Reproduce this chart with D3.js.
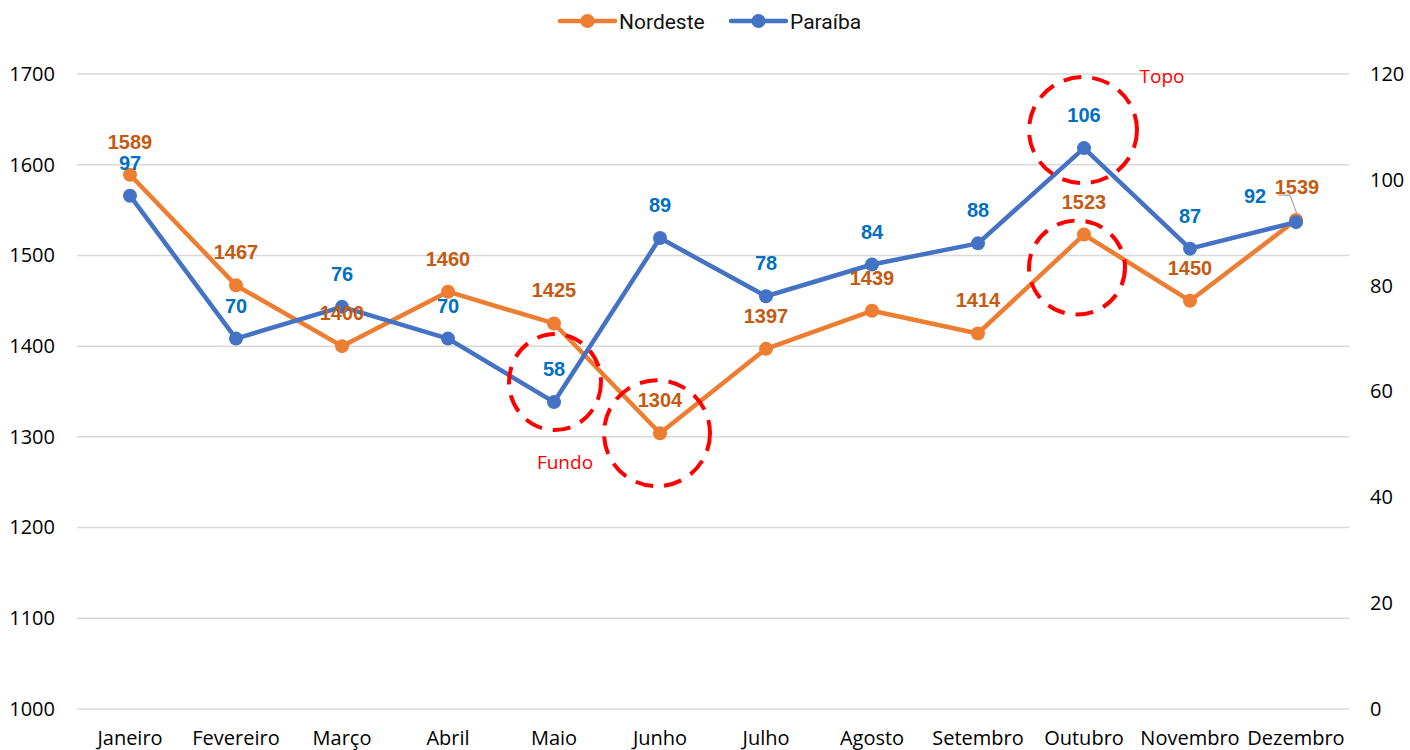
<!DOCTYPE html>
<html><head><meta charset="utf-8">
<script src="https://cdn.jsdelivr.net/npm/d3@7"></script>
<style>
html,body{margin:0;padding:0;background:#fff;}
svg{display:block;}
</style></head>
<body>
<svg id="c" width="1410" height="750"></svg>
<script>
const categories = ["Janeiro","Fevereiro","Março","Abril","Maio","Junho","Julho","Agosto","Setembro","Outubro","Novembro","Dezembro"];
const nordeste = [1589,1467,1400,1460,1425,1304,1397,1439,1414,1523,1450,1539];
const paraiba = [97,70,76,70,58,89,78,84,88,106,87,92];
const leftTicks = [1000,1100,1200,1300,1400,1500,1600,1700];
const rightTicks = [0,20,40,60,80,100,120];

const svg = d3.select("#c");
const L = 77, R = 1349, T = 74, B = 709;
const x = d3.scaleBand().domain(categories).range([L, R]);
const yL = d3.scaleLinear().domain([1000,1700]).range([B, T]);
const yR = d3.scaleLinear().domain([0,120]).range([B, T]);
const cx = c => x(c) + x.bandwidth()/2;
const fontAxis = "'Open Sans', 'Noto Sans', sans-serif";

// gridlines
svg.append("g").selectAll("line").data(leftTicks).join("line")
  .attr("x1", L).attr("x2", R).attr("y1", d=>yL(d)).attr("y2", d=>yL(d))
  .attr("stroke", "#D9D9D9").attr("stroke-width", 1.5);

// left axis
const gl = svg.append("g").attr("transform", `translate(${L},0)`)
  .call(d3.axisLeft(yL).tickValues(leftTicks).tickFormat(d3.format("d")).tickSize(0).tickPadding(22));
gl.select(".domain").remove();
gl.selectAll("text").attr("font-size", 20).attr("font-family", fontAxis).attr("fill", "#000");

// right axis
const gr = svg.append("g").attr("transform", `translate(${R},0)`)
  .call(d3.axisRight(yR).tickValues(rightTicks).tickSize(0).tickPadding(21));
gr.select(".domain").remove();
gr.selectAll("text").attr("font-size", 20).attr("font-family", fontAxis).attr("fill", "#000");

// bottom axis
const gb = svg.append("g").attr("transform", `translate(0,${B})`)
  .call(d3.axisBottom(x).tickSize(0).tickPadding(22));
gb.select(".domain").remove();
gb.selectAll("text").attr("font-size", 20).attr("font-weight", 400)
  .attr("font-family", "'Liberation Sans Narrow', 'Open Sans', sans-serif").attr("fill", "#000");

const orange = "#ED7D31", blue = "#4472C4";
const orangeLbl = "#C55A11", blueLbl = "#0070C0";

// lines
const lineN = d3.line().x((d,i)=>cx(categories[i])).y(d=>yL(d));
const lineP = d3.line().x((d,i)=>cx(categories[i])).y(d=>yR(d));
svg.append("path").attr("d", lineN(nordeste)).attr("fill","none").attr("stroke", orange).attr("stroke-width", 4.5).attr("stroke-linejoin","round");
svg.append("path").attr("d", lineP(paraiba)).attr("fill","none").attr("stroke", blue).attr("stroke-width", 4.5).attr("stroke-linejoin","round");

svg.append("g").selectAll("circle").data(nordeste).join("circle")
  .attr("cx",(d,i)=>cx(categories[i])).attr("cy", d=>yL(d)).attr("r", 7).attr("fill", orange);
svg.append("g").selectAll("circle").data(paraiba).join("circle")
  .attr("cx",(d,i)=>cx(categories[i])).attr("cy", d=>yR(d)).attr("r", 7).attr("fill", blue);

// leader line for Dezembro Nordeste label
const dz = categories[11];
svg.append("path").attr("d", `M${cx(dz)-18},${yL(nordeste[11])-25} L${cx(dz)-6},${yL(nordeste[11])-25} L${cx(dz)+1},${yL(nordeste[11])-6}`)
  .attr("fill","none").attr("stroke","#A6A6A6").attr("stroke-width",1.2);

// data labels
const lblFont = "'Liberation Sans', Arial, sans-serif";
svg.append("g").selectAll("text").data(nordeste).join("text")
  .attr("x",(d,i)=>cx(categories[i]) + (i===11 ? 1 : 0))
  .attr("y", d=>yL(d) - 26)
  .attr("text-anchor","middle").attr("font-size", 20).attr("font-weight","bold")
  .attr("font-family", lblFont).attr("fill", orangeLbl).text(d=>d);
svg.append("g").selectAll("text").data(paraiba).join("text")
  .attr("x",(d,i)=>cx(categories[i]) + (i===11 ? -41 : 0))
  .attr("y",(d,i)=> yR(d) - (i===11 ? 19 : 26))
  .attr("text-anchor","middle").attr("font-size", 20).attr("font-weight","bold")
  .attr("font-family", lblFont).attr("fill", blueLbl).text(d=>d);

// annotations (dashed circles)
const ann = [
  {cx: cx("Maio")+1, cy: yR(paraiba[4]) - 20, rx: 46, ry: 48},
  {cx: cx("Junho")-3, cy: yL(nordeste[5]), rx: 53, ry: 53},
  {cx: cx("Outubro")-1, cy: yR(paraiba[9]) - 18, rx: 54, ry: 53},
  {cx: cx("Outubro")-7, cy: yL(nordeste[9]) + 33, rx: 48, ry: 47}
];
svg.append("g").selectAll("ellipse").data(ann).join("ellipse")
  .attr("cx", d=>d.cx).attr("cy", d=>d.cy).attr("rx", d=>d.rx).attr("ry", d=>d.ry)
  .attr("fill","none").attr("stroke","#FF0000").attr("stroke-width",4).attr("stroke-dasharray","18 11");

svg.append("text").attr("x", 565).attr("y", 469).attr("text-anchor","middle")
  .attr("font-size", 19).attr("font-family", "'Liberation Sans Narrow', 'Open Sans', sans-serif").attr("fill","#FF0000").text("Fundo");
svg.append("text").attr("x", 1162).attr("y", 83).attr("text-anchor","middle")
  .attr("font-size", 19).attr("font-family", "'Liberation Sans Narrow', 'Open Sans', sans-serif").attr("fill","#FF0000").text("Topo");

// legend
const leg = svg.append("g").attr("font-family", "Roboto, 'Open Sans', sans-serif").attr("font-size", 21);
const items = [{name:"Nordeste", color: orange, x: 560}, {name:"Paraíba", color: blue, x: 731}];
items.forEach(it => {
  leg.append("line").attr("x1", it.x).attr("x2", it.x+55).attr("y1", 21).attr("y2", 21)
    .attr("stroke", it.color).attr("stroke-width", 4.5).attr("stroke-linecap","round");
  leg.append("circle").attr("cx", it.x+27.5).attr("cy", 21).attr("r", 7).attr("fill", it.color);
  leg.append("text").attr("x", it.x+59).attr("y", 28.5).attr("fill","#111").text(it.name);
});
</script>
</body></html>
